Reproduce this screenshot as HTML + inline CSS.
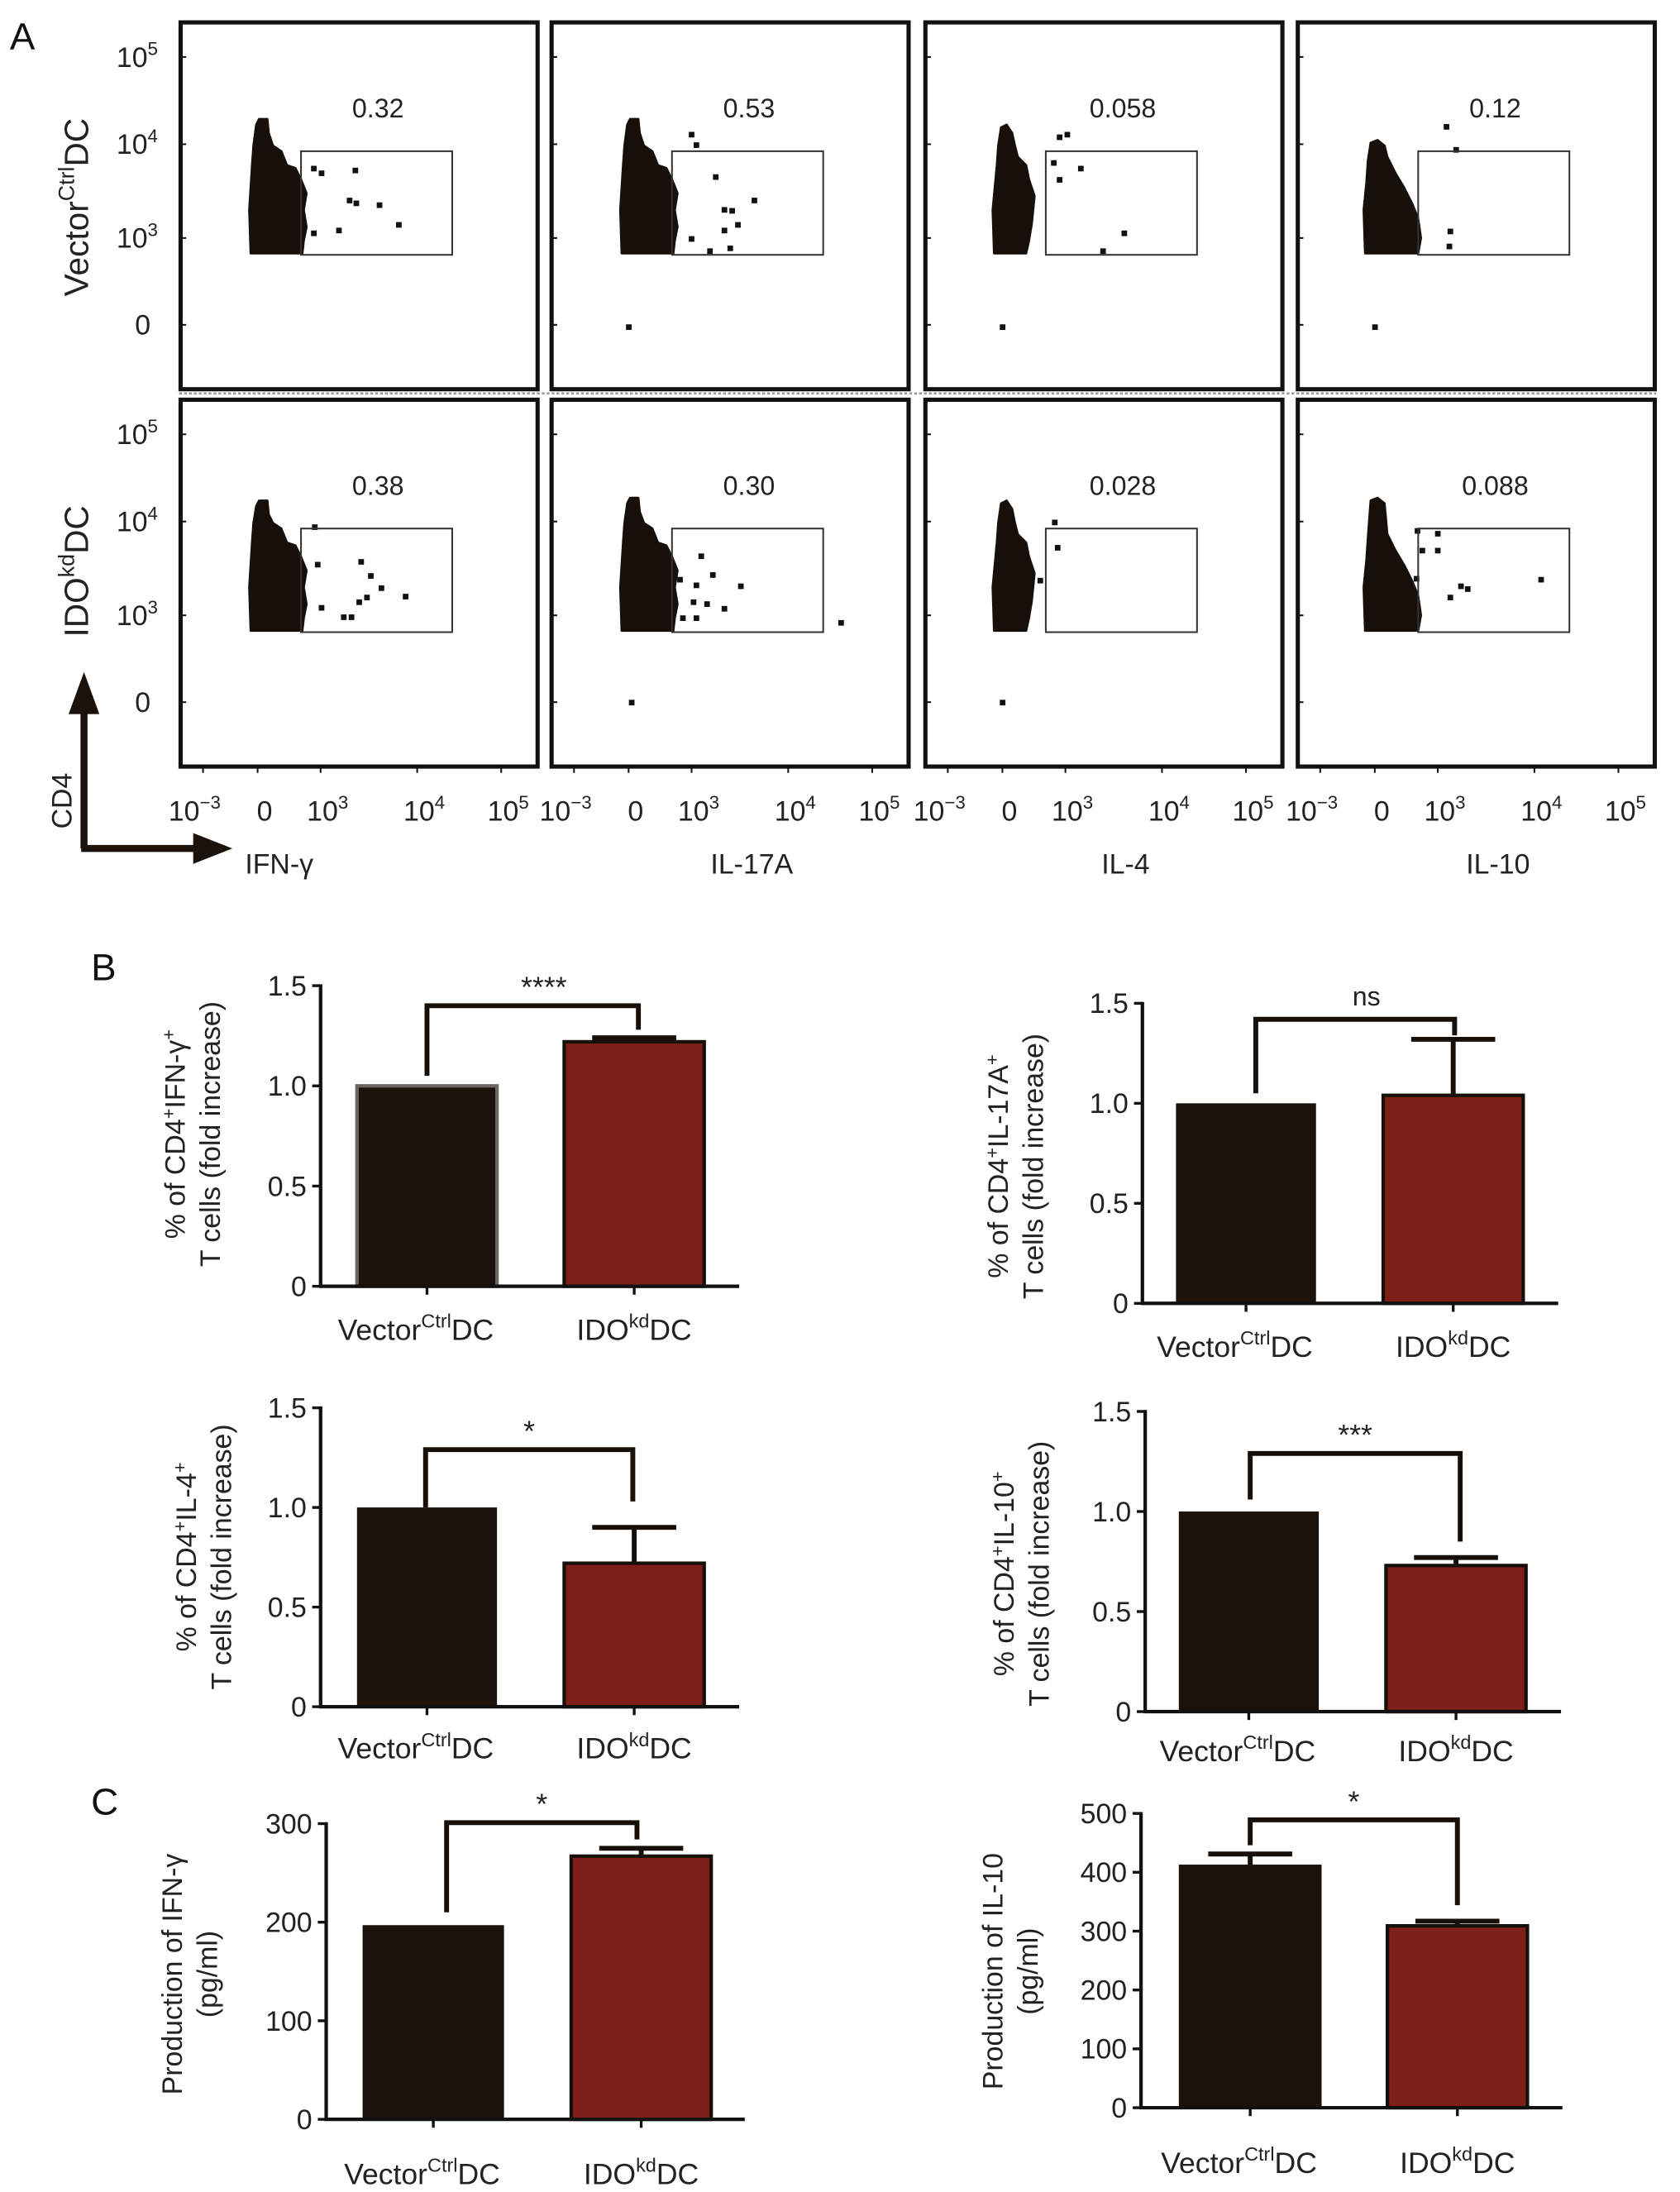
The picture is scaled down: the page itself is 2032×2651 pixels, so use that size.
<!DOCTYPE html>
<html><head><meta charset="utf-8">
<style>
html,body{margin:0;padding:0;background:#fff;}
svg{display:block;font-family:"Liberation Sans",Arial,sans-serif;}
</style></head>
<body>
<svg id="fig" xmlns="http://www.w3.org/2000/svg" width="2032" height="2651" viewBox="0 0 1200 1565.6" preserveAspectRatio="none">
<rect x="0" y="0" width="1200" height="1565.6" fill="#fff"/>
</svg>
<script>
// ---------- Flow cytometry data ----------
const flowGateValues = ["0.32","0.53","0.058","0.12","0.38","0.30","0.028","0.088"];
const flowXLabels = ["IFN-γ","IL-17A","IL-4","IL-10"];
const flowRowLabels = [["Vector","Ctrl","DC"],["IDO","kd","DC"]];
// outlier events [log10 x, log10 CD4]
const ev_r1c1 = [[2.93,3.74],[3.01,3.69],[3.36,3.72],[3.30,3.40],[3.37,3.37],[3.61,3.35],[3.81,3.14],[3.19,3.08],[2.93,3.05]];
const ev_r1c2 = [[3.0,4.11],[3.05,3.99],[3.25,3.65],[3.65,3.40],[3.34,3.30],[3.42,3.29],[3.48,3.14],[3.34,3.08],[3.19,2.86],[3.40,2.89],[3.0,2.99],[2.35,2.05]];
const ev_r1c3 = [[2.94,4.08],[3.02,4.11],[2.88,3.80],[3.16,3.74],[2.94,3.62],[3.61,3.05],[3.39,2.86],[2.35,2.05]];
const ev_r1c4 = [[3.09,4.20],[3.19,3.94],[3.13,3.07],[3.12,2.91],[2.35,2.05]];
const ev_r2c1 = [[2.94,3.94],[2.97,3.54],[3.42,3.57],[3.52,3.42],[3.63,3.29],[3.48,3.19],[3.40,3.14],[3.88,3.20],[3.01,3.08],[3.32,2.98],[3.24,2.98]];
const ev_r2c2 = [[3.10,3.63],[2.88,3.38],[3.05,3.32],[3.22,3.43],[3.51,3.31],[3.02,3.14],[3.16,3.12],[3.34,3.07],[3.05,2.97],[2.91,2.97],[4.63,2.92],[2.38,2.07]];
const ev_r2c3 = [[2.89,3.99],[2.92,3.72],[2.74,3.37],[2.35,2.07]];
const ev_r2c4 = [[2.79,3.90],[3.0,3.87],[2.84,3.69],[3.0,3.69],[2.78,3.39],[3.13,3.19],[3.24,3.31],[3.31,3.28],[4.08,3.38]];
const flowEvents = [ev_r1c1,ev_r1c2,ev_r1c3,ev_r1c4,ev_r2c1,ev_r2c2,ev_r2c3,ev_r2c4];
const blobTops = [85,85,89,100,88,86,88,86];

// ---------- Bar chart data ----------
const categories = [["Vector","Ctrl","DC"],["IDO","kd","DC"]];
const b1Values = [1.0,1.22], b1Errors = [0,0.02];
const b2Values = [1.0,1.04], b2Errors = [0,0.28];
const b3Values = [1.0,0.72], b3Errors = [0,0.18];
const b4Values = [1.0,0.73], b4Errors = [0,0.04];
const c1Values = [197,267], c1Errors = [0,8];
const c2Values = [413,309], c2Errors = [18,8];
const foldTicks = [0,0.5,1.0,1.5];
const foldTickLabels = ["0","0.5","1.0","1.5"];
const ifnTicks = [0,100,200,300];
const il10Ticks = [0,100,200,300,400,500];
const b1Bracket = [1.05,1.40,1.28], b2Bracket = [1.05,1.42,1.34];
const b3Bracket = [1.0,1.29,1.03], b4Bracket = [1.06,1.29,0.85];
const c1Bracket = [210,301,284], c2Bracket = [446,489,344];
const sigLabels = ["****","ns","*","***","*","*"];

const NS="http://www.w3.org/2000/svg";
const svg=document.getElementById('fig');
function mk(tag,attrs,parent){const e=document.createElementNS(NS,tag);for(const k in attrs)e.setAttribute(k,attrs[k]);(parent||svg).appendChild(e);return e;}
function supText(parent,x,y,parts,size,anchor,transform){
  const t=mk('text',{x:x,y:y,'font-size':size,'text-anchor':anchor||'middle',fill:'#222'},parent);
  if(transform)t.setAttribute('transform',transform);
  const a=mk('tspan',{},t);a.textContent=parts[0];
  if(parts.length>1){const b=mk('tspan',{dy:-size*0.42,'font-size':size*0.66},t);b.textContent=parts[1];}
  if(parts.length>2){const c=mk('tspan',{dy:size*0.42},t);c.textContent=parts[2];}
  return t;
}

// ---------- Panel A ----------
const gA=mk('g',{});


const lblA=mk('text',{x:7,y:35,'font-size':27,fill:'#111'},gA);
lblA.textContent='A';



const colLeft=[129,394,661,927], boxW=255;
const rowTop=[16,285.5], rowOff=[0,269.5];
const xTickRel=[16,55,100,169,229];
function xPos(col,d){const b=colLeft[col];
  if(d>=4) return b+169+(d-4)*60;
  return b+100+(d-3)*69;}
function yPos(row,d){const o=rowOff[row];
  if(d>=4) return o+103-(d-4)*62;
  return o+170-(d-3)*67;}

const div=mk('line',{x1:128,y1:281,x2:1183,y2:281,stroke:'#999','stroke-width':1.5,'stroke-dasharray':'2 1.5'},gA);



for(let r=0;r<2;r++){
  for(let c=0;c<4;c++){
    const i=r*4+c, bx=colLeft[c], o=rowOff[r];
    const g=mk('g',{},gA);
    
    
    const box=mk('rect',{x:bx,y:rowTop[r],width:boxW,height:262,fill:'none',stroke:'#111','stroke-width':3},g);
    
    
    [40.7,103,170,232].forEach(yy=>{
      const tk=mk('line',{x1:bx,y1:o+yy,x2:bx+4,y2:o+yy,stroke:'#111','stroke-width':1.2},g);
      
      
    });
    const t=blobTops[i];
    let nx=[[51,118],[52,104],[54,t+4],[56,t],[62,t],[63,t+10],[66,104],[72,108],[76,118],[82,120],[86,128],[90,138],[88,150],[90,162],[88,172],[87,181],[50,181],[49,150]];
    if(c===2){nx=[[51,118],[52,104],[54,t+2],[58,t],[62,t+6],[64,104],[66,112],[72,118],[74,128],[78,140],[76,160],[74,172],[72,181],[49,181],[48,150]];}
    if(c===3){nx=[[49,130],[50,115],[52,t+2],[57,t],[62,t+4],[64,112],[70,124],[76,134],[82,146],[86,156],[88,170],[86,181],[48,181],[47,150]];}
    const blob=mk('polygon',{points:nx.map(p=>(bx+p[0])+','+(o+p[1])).join(' '),fill:'#17100a',stroke:'#17100a','stroke-width':1.5,'stroke-linejoin':'round'},g);
    
    
    flowEvents[i].forEach(ev=>{
      const d=mk('rect',{x:xPos(c,ev[0])-2,y:yPos(r,ev[1])-2,width:4,height:4,fill:'#111'},g);
      
      
    });
    const gate=mk('rect',{x:bx+86,y:o+108,width:108,height:74,fill:'none',stroke:'#333','stroke-width':1.2},g);
    
    
    const gv=mk('text',{x:bx+141,y:o+84,'font-size':19,'text-anchor':'middle',fill:'#222'},g);
    gv.textContent=flowGateValues[i];
    
    
  }
  const ylab=[["10","5",40.7],["10","4",103],["10","3",170]];
  ylab.forEach(l=>{
    const tt=supText(gA,98,rowOff[r]+l[2]+7,[l[0],l[1]],20,'middle');
    
    
  });
  const z=mk('text',{x:102,y:rowOff[r]+239,'font-size':20,'text-anchor':'middle',fill:'#222'},gA);
  z.textContent='0';
  
  
  const rl=supText(gA,0,0,flowRowLabels[r],24,'middle','translate(63,'+(r===0?148:408)+') rotate(-90)');
  
  
}
const xtl=[["10","−3"],["0"],["10","3"],["10","4"],["10","5"]];
for(let c=0;c<4;c++){
  const bx=colLeft[c];
  xTickRel.forEach((rx,k)=>{
    const tk=mk('line',{x1:bx+rx,y1:547,x2:bx+rx,y2:552,stroke:'#111','stroke-width':1.2},gA);
    
    
    const tl=supText(gA,bx+rx+(k===0?-6:5),586,xtl[k],20,'middle');
    
    
  });
  const xl=mk('text',{x:c===0?175:bx+143,y:624,'font-size':20,'text-anchor':c===0?'start':'middle',fill:'#222'},gA);
  xl.textContent=flowXLabels[c];
  
  
}
const arr=mk('path',{d:'M60 606 L60 500 M58 606 L146 606',stroke:'#1a120b','stroke-width':5,fill:'none'},gA);


const ah1=mk('polygon',{points:'60,480 49,510 71,510',fill:'#1a120b'},gA);


const ah2=mk('polygon',{points:'166,606 138,595 138,617',fill:'#1a120b'},gA);


const cd4=mk('text',{x:0,y:0,'font-size':20,'text-anchor':'middle',fill:'#222',transform:'translate(51,572) rotate(-90)'},gA);
cd4.textContent='CD4';



// ---------- Bar charts ----------
function barChart(cfg){
  const g=mk('g',{});
  
  
  const yS=v=>cfg.y0-(v/cfg.max)*(cfg.y0-cfg.yTop);
  cfg.values.forEach((v,k)=>{
    const bx=cfg.bars[k];
    const col=k===0?'#1a120b':'#7e2019';
    const bar=mk('rect',{x:bx[0],y:yS(v),width:bx[1]-bx[0],height:cfg.y0-yS(v),fill:col,stroke:(k===0&&cfg.grayEdge)?'#6e6462':'#17100a','stroke-width':k===0&&!cfg.grayEdge?0:2.5},g);
    
    
    const e=cfg.errors[k];
    if(e>0){
      const cx=(bx[0]+bx[1])/2;
      const eb=mk('path',{d:'M'+cx+' '+yS(v)+' L'+cx+' '+yS(v+e)+' M'+(cx-30)+' '+yS(v+e)+' L'+(cx+30)+' '+yS(v+e),stroke:'#17100a','stroke-width':3.5,fill:'none'},g);
      
      
    }
  });
  const ax=mk('path',{d:'M'+cfg.axisX+' '+(cfg.yTop-1)+' L'+cfg.axisX+' '+cfg.y0+' L'+cfg.xEnd+' '+cfg.y0,stroke:'#111','stroke-width':2.5,fill:'none'},g);
  
  
  cfg.ticks.forEach((tv,k)=>{
    const tk=mk('line',{x1:cfg.axisX-6,y1:yS(tv),x2:cfg.axisX,y2:yS(tv),stroke:'#111','stroke-width':2},g);
    
    
    const tl=mk('text',{x:cfg.axisX-10,y:yS(tv)+7,'font-size':20,'text-anchor':'end',fill:'#222'},g);
    tl.textContent=cfg.tickLabels[k];
    
    
  });
  cfg.bars.forEach((bx,k)=>{
    const cx=(bx[0]+bx[1])/2;
    const tk=mk('line',{x1:cx,y1:cfg.y0,x2:cx,y2:cfg.y0+6,stroke:'#111','stroke-width':2},g);
    
    
    const cl=supText(g,cx-(k===0?8:0),cfg.labelY,categories[k],21,'middle');
    
    
  });
  const br=cfg.bracket;
  const bp=mk('path',{d:'M'+cfg.brX[0]+' '+yS(br[0])+' L'+cfg.brX[0]+' '+yS(br[1])+' L'+cfg.brX[1]+' '+yS(br[1])+' L'+cfg.brX[1]+' '+yS(br[2]),stroke:'#17100a','stroke-width':3.5,fill:'none'},g);
  
  
  const st=mk('text',{x:(cfg.brX[0]+cfg.brX[1])/2+cfg.starDx,y:yS(br[1])-(cfg.sig==='ns'?10:6),'font-size':cfg.sig==='ns'?19:21,'text-anchor':'middle',fill:'#222'},g);
  st.textContent=cfg.sig;
  
  
  cfg.ylab.forEach((ln,k)=>{
    const tx=cfg.ylabX[k];
    const t=mk('text',{x:0,y:0,'font-size':20,'text-anchor':'middle',fill:'#222',transform:'translate('+tx+','+cfg.ylabY+') rotate(-90)'},g);
    ln.forEach(seg=>{
      const s=mk('tspan',seg[1]?{dy:-7,'font-size':13}:{dy:seg[2]||0},t);
      s.textContent=seg[0];
    });
    
    
  });
  return g;
}

const lblB=mk('text',{x:65,y:700,'font-size':27,fill:'#111'});
lblB.textContent='B';


const lblC=mk('text',{x:65,y:1296,'font-size':27,fill:'#111'});
lblC.textContent='C';



barChart({name:'chart-b-ifn',axisX:229,xEnd:528,y0:918.7,yTop:704,max:1.5,ticks:foldTicks,tickLabels:foldTickLabels,
  bars:[[255,355],[403,503]],values:b1Values,errors:b1Errors,grayEdge:true,bracket:b1Bracket,brX:[305,456],sig:sigLabels[0],starDx:8,labelY:957,
  ylab:[[["% of CD4"],["+",1],["IFN-γ",0,7],["+",1]],[["T cells (fold increase)"]]],ylabX:[132,157],ylabY:810});
barChart({name:'chart-b-il17a',axisX:816,xEnd:1113,y0:930.9,yTop:716.6,max:1.5,ticks:foldTicks,tickLabels:foldTickLabels,
  bars:[[840,940],[988,1088]],values:b2Values,errors:b2Errors,bracket:b2Bracket,brX:[897,1039],sig:sigLabels[1],starDx:8,labelY:969,
  ylab:[[["% of CD4"],["+",1],["IL-17A",0,7],["+",1]],[["T cells (fold increase)"]]],ylabX:[720,745],ylabY:833});
barChart({name:'chart-b-il4',axisX:229,xEnd:528,y0:1219,yTop:1005.5,max:1.5,ticks:foldTicks,tickLabels:foldTickLabels,
  bars:[[255,355],[403,503]],values:b3Values,errors:b3Errors,bracket:b3Bracket,brX:[304,452],sig:sigLabels[2],starDx:0,labelY:1256,
  ylab:[[["% of CD4"],["+",1],["IL-4",0,7],["+",1]],[["T cells (fold increase)"]]],ylabX:[140,165],ylabY:1112});
barChart({name:'chart-b-il10',axisX:818,xEnd:1115,y0:1222.5,yTop:1008.1,max:1.5,ticks:foldTicks,tickLabels:foldTickLabels,
  bars:[[842,942],[990,1090]],values:b4Values,errors:b4Errors,bracket:b4Bracket,brX:[893,1043],sig:sigLabels[3],starDx:0,labelY:1258,
  ylab:[[["% of CD4"],["+",1],["IL-10",0,7],["+",1]],[["T cells (fold increase)"]]],ylabX:[724,749],ylabY:1124});
barChart({name:'chart-c-ifn',axisX:233,xEnd:532,y0:1513.7,yTop:1302.5,max:300,ticks:ifnTicks,tickLabels:ifnTicks.map(String),
  bars:[[259,360],[408,508]],values:c1Values,errors:c1Errors,bracket:c1Bracket,brX:[319,455],sig:sigLabels[4],starDx:0,labelY:1560,
  ylab:[[["Production of IFN-γ"]],[["(pg/ml)"]]],ylabX:[130,155],ylabY:1410});
barChart({name:'chart-c-il10',axisX:815,xEnd:1116,y0:1505.4,yTop:1295.2,max:500,ticks:il10Ticks,tickLabels:il10Ticks.map(String),
  bars:[[842,944],[991,1091]],values:c2Values,errors:c2Errors,bracket:c2Bracket,brX:[893,1041],sig:sigLabels[5],starDx:0,labelY:1552,
  ylab:[[["Production of IL-10"]],[["(pg/ml)"]]],ylabX:[716,741],ylabY:1408});
</script>
</body></html>
